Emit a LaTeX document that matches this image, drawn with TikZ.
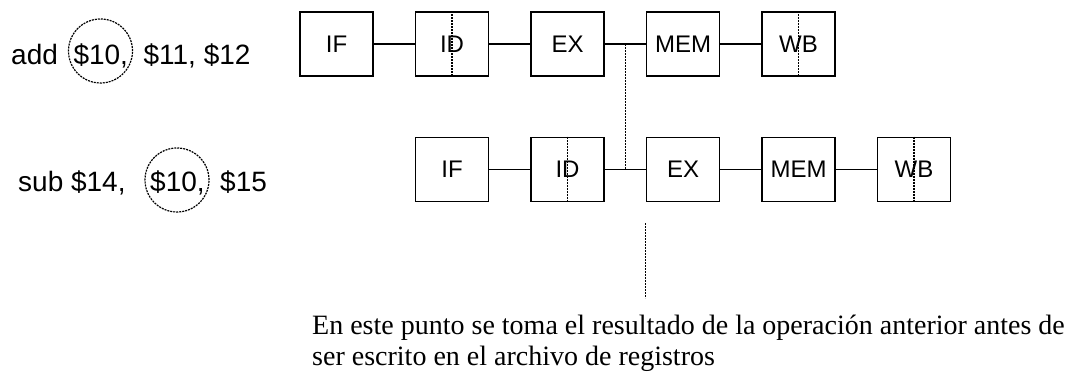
\documentclass[tikz,border=0pt]{standalone}
\usepackage{fontspec}
\setmainfont{Liberation Serif}
\newfontfamily\arialfont{Liberation Sans}
\usepackage{xcolor}
\definecolor{lineColor}{RGB}{0, 0, 0}

\begin{document}
\begin{tikzpicture}[x=1pt, y=-1pt,
    stage/.style={draw=lineColor, line width=1.6pt, minimum width=73pt, minimum height=64pt, inner sep=0pt, font=\arialfont\fontsize{24}{26}\selectfont},
    link/.style={draw=lineColor, line width=1.6pt},
    fwd/.style={draw=lineColor, line width=1.2pt, dash pattern=on 2pt off 1pt},
    instr/.style={anchor=base west, inner sep=0pt, font=\arialfont\fontsize{28}{32}\selectfont},
    ring/.style={circle, draw=lineColor, line width=1.2pt, dash pattern=on 2pt off 1pt, minimum size=64pt, inner sep=0pt}]
    \useasboundingbox (0,0) rectangle (1070,374);

    % Instructions
    \node[instr] (add) at (11,65) {add};
    \node[instr] (addrd) at (73.3,65) {\$10,};
    \node[instr] (addrs) at (143.4,65) {\$11, \$12};
    \node[ring] (addring) at (100.5,51) {};

    \node[instr] (sub) at (18,192) {sub \$14,};
    \node[instr] (subrs) at (150,192) {\$10,};
    \node[instr] (subrt) at (220,192) {\$15};
    \node[ring] (subring) at (177,180) {};

    % Pipeline of add
    \node[stage] (if1) at (336.5,44) {IF};
    \node[stage] (id1) at (452,44) {ID};
    \node[stage] (ex1) at (567.5,44) {EX};
    \node[stage] (mem1) at (683,44) {MEM};
    \node[stage] (wb1) at (798.5,44) {WB};

    % Pipeline of sub, one cycle later
    \node[stage] (if2) at (452,169.5) {IF};
    \node[stage] (id2) at (567.5,169.5) {ID};
    \node[stage] (ex2) at (683,169.5) {EX};
    \node[stage] (mem2) at (798.5,169.5) {MEM};
    \node[stage] (wb2) at (914,169.5) {WB};

    % Half stages
    \draw[fwd] (id1.north) -- (id1.south);
    \draw[fwd] (wb1.north) -- (wb1.south);
    \draw[fwd] (id2.north) -- (id2.south);
    \draw[fwd] (wb2.north) -- (wb2.south);

    % Stage links
    \draw[link] (if1) -- (id1);
    \draw[link] (id1) -- (ex1);
    \draw[link] (ex1) -- coordinate[midway] (exout) (mem1);
    \draw[link] (mem1) -- (wb1);
    \draw[link] (if2) -- (id2);
    \draw[link] (id2) -- coordinate[midway] (exin) (ex2);
    \draw[link] (ex2) -- (mem2);
    \draw[link] (mem2) -- (wb2);

    % Forwarding
    \draw[fwd] (exout) -- (exin);

    % Note
    \coordinate (marktop) at ([yshift=-21pt]ex2.south west);
    \coordinate (markend) at ([yshift=-96pt]ex2.south west);
    \draw[fwd] (marktop) -- (markend);
    \node[anchor=base west, align=left, inner sep=0pt, font=\fontsize{28}{31}\selectfont] (note) at (312,365)
        {En este punto se toma el resultado de la operación anterior antes de\\ser escrito en el archivo de registros};
\end{tikzpicture}
\end{document}
